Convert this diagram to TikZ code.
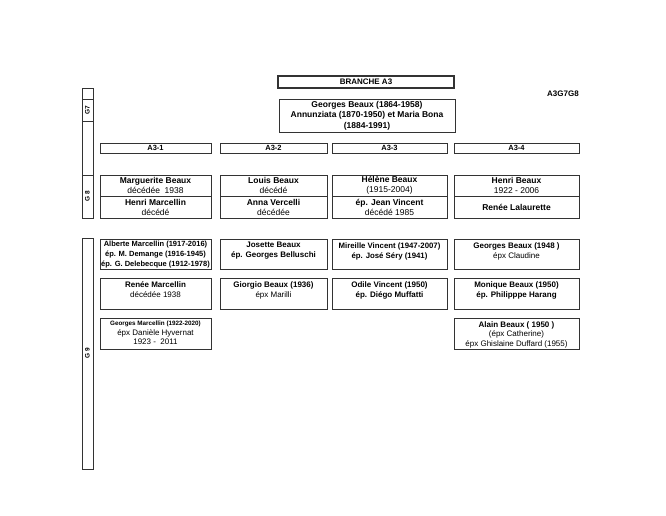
\documentclass[tikz,border=0pt]{standalone}
\usepackage{fontspec}
\setmainfont{Liberation Sans}

\begin{document}
\begin{tikzpicture}[x=1pt,y=-1pt,
  cell/.style={draw=black!80,line width=0.7pt,inner sep=0pt,align=center,font=\fontsize{8.5}{10}\selectfont},
  txt/.style={anchor=north,align=center,inner sep=0pt,yshift=-3.5pt,font=\fontsize{8}{10}\selectfont},
  head/.style={cell,minimum height=10pt,font=\fontsize{7.5}{8}\selectfont\bfseries},
  gen/.style={draw=black!80,line width=0.7pt,minimum width=11pt,inner sep=0pt,font=\fontsize{6.5}{7}\selectfont\bfseries},
  c1/.style={minimum width=111pt},c2/.style={minimum width=107pt},
  c3/.style={minimum width=115pt},c4/.style={minimum width=125pt}]

  \useasboundingbox (0,0) rectangle (666,515);

  % generations on the left
  \node[gen,minimum height=11pt] (g7top) at (87.5,93.5) {};
  \node[gen,minimum height=22pt] (g7) at (87.5,110) {\rotatebox{90}{G7}};
  \node[gen,minimum height=54pt] (g7bot) at (87.5,148) {};
  \node[gen,minimum height=43pt] (g8) at (87.5,196.5) {\rotatebox{90}{G 8}};
  \node[gen,minimum height=231pt] (g9) at (87.5,353.5) {\rotatebox{90}{G 9}};

  % branch title and ancestors
  \node[cell,line width=1.4pt,minimum width=176pt,minimum height=12pt,font=\fontsize{8}{9}\selectfont\bfseries] (branche) at (366,82) {BRANCHE A3};
  \node[cell,minimum width=176pt,minimum height=33pt,font=\fontsize{8.5}{10.5}\selectfont\bfseries] (ancetres) at (367,115.5) {Georges Beaux (1864-1958)\\Annunziata (1870-1950) et Maria Bona\\(1884-1991)};
  \node[font=\fontsize{8}{9}\selectfont\bfseries] (code) at (563,94) {A3G7G8};

  % column heads
  \node[head,c1] (h1) at (155.5,148) {A3-1};
  \node[head,c2] (h2) at (273.5,148) {A3-2};
  \node[head,c3] (h3) at (389.5,148) {A3-3};
  \node[head,c4] (h4) at (516.5,148) {A3-4};

  % G8
  \node[cell,c1,minimum height=21pt] (marguerite) at (155.5,185.5) {\textbf{Marguerite Beaux}\\d\'ec\'ed\'ee~~1938};
  \node[cell,c1,minimum height=22pt] (henriM) at (155.5,207) {\textbf{Henri Marcellin}\\d\'ec\'ed\'e};
  \node[cell,c2,minimum height=21pt] (louis) at (273.5,185.5) {\textbf{Louis Beaux}\\d\'ec\'ed\'e};
  \node[cell,c2,minimum height=22pt] (anna) at (273.5,207) {\textbf{Anna Vercelli}\\d\'ec\'ed\'ee};
  \node[cell,c3,minimum height=21pt] (helene) at (389.5,185.5) {\textbf{H\'el\`ene Beaux}\\(1915-2004)};
  \node[cell,c3,minimum height=22pt] (jean) at (389.5,207) {\textbf{\'ep. Jean Vincent}\\d\'ec\'ed\'e 1985};
  \node[cell,c4,minimum height=21pt] (henriB) at (516.5,185.5) {\textbf{Henri Beaux}\\1922 - 2006};
  \node[cell,c4,minimum height=22pt,font=\fontsize{8.5}{10}\selectfont\bfseries] (renee) at (516.5,207) {Ren\'ee Lalaurette};

  % G9
  \node[cell,c1,minimum height=30pt,label={[txt,yshift=1.5pt,font=\fontsize{7.5}{10}\selectfont\bfseries]north:{Alberte Marcellin (1917-2016)\\\'ep. M. Demange (1916-1945)\\\'ep. G. Delebecque (1912-1978)}}] (alberte) at (155.5,254) {};
  \node[cell,c2,minimum height=30pt,label={[txt,font=\fontsize{8}{10}\selectfont\bfseries]north:{Josette Beaux\\\'ep. Georges Belluschi}}] (josette) at (273.5,254) {};
  \node[cell,c3,minimum height=30pt,label={[txt,font=\fontsize{7.8}{10}\selectfont\bfseries]north:{Mireille Vincent (1947-2007)\\\'ep. Jos\'e S\'ery (1941)}}] (mireille) at (389.5,254) {};
  \node[cell,c4,minimum height=30pt,label={[txt]north:{\textbf{Georges Beaux (1948 )}\\\'epx Claudine}}] (georgesB) at (516.5,254) {};

  \node[cell,c1,minimum height=31pt,label={[txt]north:{\textbf{Ren\'ee Marcellin}\\d\'ec\'ed\'ee 1938}}] (reneeM) at (155.5,293.5) {};
  \node[cell,c2,minimum height=31pt,label={[txt]north:{\textbf{Giorgio Beaux (1936)}\\\'epx Marilli}}] (giorgio) at (273.5,293.5) {};
  \node[cell,c3,minimum height=31pt,label={[txt,font=\fontsize{8}{10}\selectfont\bfseries]north:{Odile Vincent (1950)\\\'ep. Di\'ego Muffatti}}] (odile) at (389.5,293.5) {};
  \node[cell,c4,minimum height=31pt,label={[txt,font=\fontsize{8}{10}\selectfont\bfseries]north:{Monique Beaux (1950)\\\'ep. Philipppe Harang}}] (monique) at (516.5,293.5) {};

  \node[cell,c1,minimum height=31pt,label={[txt,font=\fontsize{8}{9.5}\selectfont]north:{\textbf{\fontsize{6.3}{9.5}\selectfont Georges Marcellin (1922-2020)}\\\'epx Dani\`ele Hyvernat\\1923 -~~2011}}] (georgesM) at (155.5,333.5) {};
  \node[cell,c4,minimum height=31pt,label={[txt,font=\fontsize{8}{9.5}\selectfont]north:{\textbf{Alain Beaux ( 1950 )}\\(\'epx Catherine)\\\'epx Ghislaine Duffard (1955)}}] (alain) at (516.5,333.5) {};

\end{tikzpicture}
\end{document}
